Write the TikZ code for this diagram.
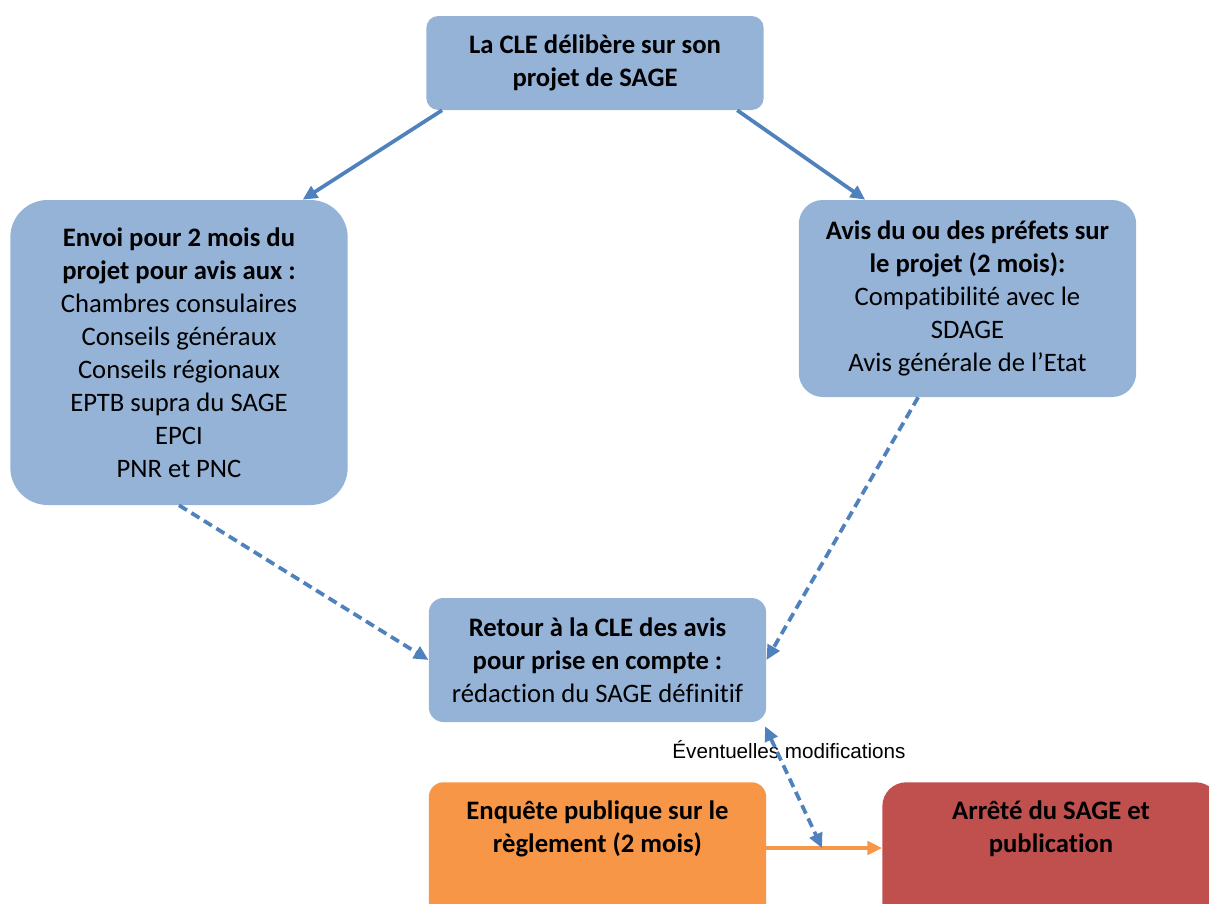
\documentclass[tikz,border=0pt]{standalone}
\usepackage{fontspec}
\setmainfont{Carlito}[Ligatures=NoCommon]
\newfontfamily\notefont{Liberation Sans}
\usetikzlibrary{arrows.meta, positioning}
\definecolor{boxblue}{HTML}{95B3D7}
\definecolor{arrowblue}{HTML}{4F81BD}
\definecolor{boxorange}{HTML}{F79646}
\definecolor{boxred}{HTML}{C0504D}

\begin{document}
\begin{tikzpicture}[
        x=0.75pt, y=-0.75pt,
        box/.style={
            rectangle,
            fill=boxblue,
            align=center,
            font=\fontsize{20}{24.75}\selectfont,
            minimum width=253pt,
            inner sep=4pt
        },
        boxlow/.style={
            box,
            anchor=north,
            inner ysep=14pt,
            text depth=70pt,
            rounded corners=11pt
        },
        arrow/.style={
            -{Triangle[length=11pt, width=10pt]},
            line width=2.8pt,
            draw=arrowblue
        },
        dasharrow/.style={
            arrow,
            dash pattern=on 7pt off 4pt
        },
        orangearrow/.style={
            -{Triangle[length=11pt, width=10pt]},
            line width=2.6pt,
            draw=boxorange
        }
    ]
        \useasboundingbox (0,0) rectangle (1209,903);

        \node (cle) [box, minimum height=70.5pt, rounded corners=9pt] at (595,63)
            {\textbf{La CLE délibère sur son} \\ \textbf{projet de SAGE}};
        \node (envoi) [box, minimum height=228.75pt, rounded corners=28pt] at (179,352.5)
            {\textbf{Envoi pour 2 mois du} \\ \textbf{projet pour avis aux :} \\ Chambres consulaires \\ Conseils généraux \\ Conseils régionaux \\ EPTB supra du SAGE \\ EPCI \\ PNR et PNC};
        \node (avis) [box, minimum height=147.75pt, rounded corners=18pt] at (967.5,298.5)
            {\textbf{Avis du ou des préfets sur} \\ \textbf{le projet (2 mois):} \\ Compatibilité avec le \\ SDAGE \\ Avis générale de l’Etat};
        \node (retour) [box, minimum height=93pt, rounded corners=11pt] at (597.5,660)
            {\textbf{Retour à la CLE des avis} \\ \textbf{pour prise en compte :} \\ rédaction du SAGE définitif};
        \node (enquete) [boxlow, fill=boxorange] at (597.5,782)
            {\textbf{Enquête publique sur le} \\ \textbf{règlement (2 mois)}};
        \node (arrete) [boxlow, fill=boxred, rounded corners=18pt] at (1051,782)
            {\textbf{Arrêté du SAGE et} \\ \textbf{publication}};

        \coordinate (jonction) at (822,848);
        \node (modif) [font=\notefont\fontsize{15.5}{18}\selectfont] at (789,750) {Éventuelles modifications};

        \draw [arrow] ([xshift=12pt]cle.south west) -- ([xshift=-34pt]envoi.north east);
        \draw [arrow] ([xshift=-20pt]cle.south east) -- ([xshift=50pt]avis.north west);
        \draw [dasharrow] (envoi.south) -- (retour.west);
        \draw [dasharrow] ([xshift=-37pt]avis.south) -- (retour.east);
        \draw [orangearrow] (enquete.east |- jonction) -- (arrete.west |- jonction);
        \draw [dasharrow, {Triangle[length=11pt, width=10pt]}-{Triangle[length=11pt, width=10pt]}] ([xshift=-1pt, yshift=-3pt]retour.south east) -- (jonction);
    \end{tikzpicture}
\end{document}
